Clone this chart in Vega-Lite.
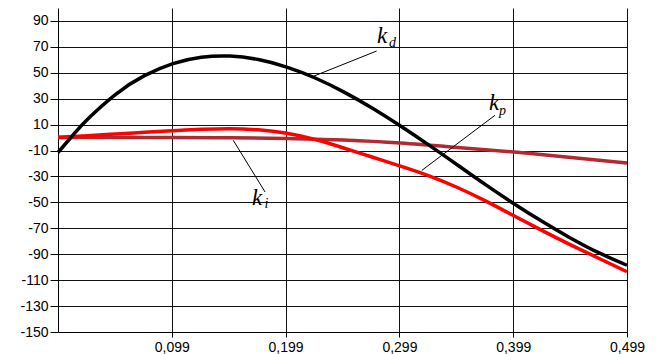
{
  "$schema": "https://vega.github.io/schema/vega-lite/v6.json",
  "width": 569,
  "height": 324,
  "autosize": "none",
  "padding": {"left": 58, "top": 8, "right": 34, "bottom": 22},
  "background": "#ffffff",
  "config": {
    "view": {"stroke": null},
    "axis": {
      "domainColor": "#000000",
      "tickColor": "#000000",
      "gridColor": "#111111",
      "gridWidth": 1,
      "labelFont": "Liberation Sans",
      "labelFontSize": 14,
      "labelColor": "#000000",
      "labelOverlap": false,
      "title": null
    }
  },
  "datasets": {
    "kd": [
      {"x": -0.001, "y": -11.5}, {"x": 0.0125, "y": 2.3}, {"x": 0.025, "y": 14.2},
      {"x": 0.05, "y": 33.6}, {"x": 0.075, "y": 47.8}, {"x": 0.1, "y": 57.1},
      {"x": 0.125, "y": 62.0}, {"x": 0.15, "y": 62.9}, {"x": 0.175, "y": 60.2},
      {"x": 0.2, "y": 54.4}, {"x": 0.225, "y": 46.0}, {"x": 0.25, "y": 35.3},
      {"x": 0.275, "y": 22.8}, {"x": 0.3, "y": 8.9}, {"x": 0.325, "y": -5.8},
      {"x": 0.35, "y": -21.1}, {"x": 0.375, "y": -36.5}, {"x": 0.4, "y": -51.2},
      {"x": 0.425, "y": -65.0}, {"x": 0.45, "y": -77.8}, {"x": 0.475, "y": -89.2},
      {"x": 0.499, "y": -98.5}
    ],
    "kp": [
      {"x": -0.001, "y": 0.3}, {"x": 0.025, "y": 1.5}, {"x": 0.05, "y": 2.8},
      {"x": 0.075, "y": 4.1}, {"x": 0.1, "y": 5.3}, {"x": 0.125, "y": 6.4},
      {"x": 0.15, "y": 6.9}, {"x": 0.175, "y": 6.0}, {"x": 0.2, "y": 3.3},
      {"x": 0.225, "y": -1.5}, {"x": 0.25, "y": -8}, {"x": 0.275, "y": -15},
      {"x": 0.3, "y": -22}, {"x": 0.325, "y": -29.5}, {"x": 0.35, "y": -38.5},
      {"x": 0.375, "y": -49}, {"x": 0.4, "y": -60.5}, {"x": 0.425, "y": -72},
      {"x": 0.45, "y": -83}, {"x": 0.475, "y": -93.5}, {"x": 0.499, "y": -103.5}
    ],
    "ki": [
      {"x": -0.001, "y": 0}, {"x": 0.05, "y": 0}, {"x": 0.1, "y": 0},
      {"x": 0.15, "y": -0.2}, {"x": 0.2, "y": -0.6}, {"x": 0.25, "y": -1.9},
      {"x": 0.3, "y": -4.2}, {"x": 0.35, "y": -7.6}, {"x": 0.4, "y": -11.2},
      {"x": 0.45, "y": -15.3}, {"x": 0.499, "y": -19.6}
    ],
    "leaders": [
      {"x": 0.279, "y": 66.8, "x2": 0.2234, "y2": 47.3},
      {"x": 0.383, "y": 17.2, "x2": 0.3187, "y2": -25.3},
      {"x": 0.153, "y": -2.1, "x2": 0.181, "y2": -42}
    ],
    "mains": [
      {"x": 0.2793, "y": 73.0, "t": "k"},
      {"x": 0.3777, "y": 21.1, "t": "k"},
      {"x": 0.1695, "y": -51.9, "t": "k"}
    ],
    "subs": [
      {"x": 0.2899, "y": 69.9, "t": "d"},
      {"x": 0.3865, "y": 17.2, "t": "p"},
      {"x": 0.1805, "y": -54.6, "t": "i"}
    ]
  },
  "layer": [
    {
      "data": {"name": "ki"},
      "mark": {"type": "line", "color": "#b02a30", "strokeWidth": 3.5, "interpolate": "natural"},
      "encoding": {
        "x": {
          "field": "x", "type": "quantitative",
          "scale": {"domain": [-0.001, 0.499], "nice": false, "zero": false},
          "axis": {
            "values": [0.099, 0.199, 0.299, 0.399, 0.499],
            "tickCount": 20,
            "labelExpr": "replace('' + datum.value, '.', ',')",
            "tickSize": 5, "labelPadding": 3, "labelFlush": false, "labelOverlap": false, "grid": true
          }
        },
        "y": {
          "field": "y", "type": "quantitative",
          "scale": {"domain": [-150, 100], "nice": false, "zero": false},
          "axis": {
            "values": [-150, -130, -110, -90, -70, -50, -30, -10, 10, 30, 50, 70, 90],
            "tickCount": 20,
            "labelExpr": "'' + datum.value",
            "tickSize": 8, "labelPadding": 2, "labelOverlap": false, "labelFlush": false, "grid": true
          }
        }
      }
    },
    {
      "data": {"name": "kp"},
      "mark": {"type": "line", "color": "#ff0000", "strokeWidth": 3.5, "interpolate": "natural"},
      "encoding": {
        "x": {"field": "x", "type": "quantitative"},
        "y": {"field": "y", "type": "quantitative"}
      }
    },
    {
      "data": {"name": "kd"},
      "mark": {"type": "line", "color": "#000000", "strokeWidth": 3.5, "interpolate": "natural"},
      "encoding": {
        "x": {"field": "x", "type": "quantitative"},
        "y": {"field": "y", "type": "quantitative"}
      }
    },
    {
      "data": {"name": "leaders"},
      "mark": {"type": "rule", "color": "#000000", "strokeWidth": 1},
      "encoding": {
        "x": {"field": "x", "type": "quantitative"},
        "y": {"field": "y", "type": "quantitative"},
        "x2": {"field": "x2"},
        "y2": {"field": "y2"}
      }
    },
    {
      "data": {"name": "mains"},
      "mark": {"type": "text", "font": "Liberation Serif", "fontStyle": "italic", "fontSize": 23, "align": "left", "baseline": "alphabetic", "color": "#000000"},
      "encoding": {
        "x": {"field": "x", "type": "quantitative"},
        "y": {"field": "y", "type": "quantitative"},
        "text": {"field": "t"}
      }
    },
    {
      "data": {"name": "subs"},
      "mark": {"type": "text", "font": "Liberation Serif", "fontStyle": "italic", "fontSize": 14, "align": "left", "baseline": "alphabetic", "color": "#000000"},
      "encoding": {
        "x": {"field": "x", "type": "quantitative"},
        "y": {"field": "y", "type": "quantitative"},
        "text": {"field": "t"}
      }
    }
  ]
}
